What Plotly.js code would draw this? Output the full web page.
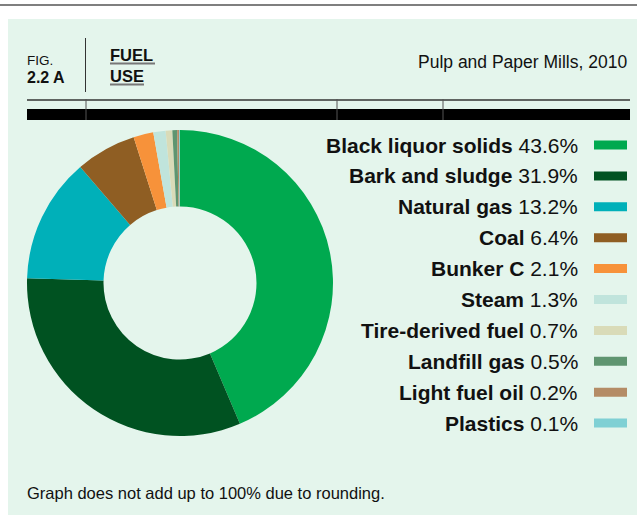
<!DOCTYPE html>
<html>
<head>
<meta charset="utf-8">
<script src="https://cdn.plot.ly/plotly-3.0.1.min.js"></script>
<style>html,body{margin:0;padding:0;background:#fff;}#chart{width:637px;height:518px;}</style>
</head>
<body>
<div id="chart"></div>
<script>
const categories = ["Black liquor solids","Bark and sludge","Natural gas","Coal","Bunker C","Steam","Tire-derived fuel","Landfill gas","Light fuel oil","Plastics"];
const shares = [43.6, 31.9, 13.2, 6.4, 2.1, 1.3, 0.7, 0.5, 0.2, 0.1];
const valueLabels = ["43.6%","31.9%","13.2%","6.4%","2.1%","1.3%","0.7%","0.5%","0.2%","0.1%"];
const colors = ["#00a94f","#005221","#00b0b9","#8f5e23","#f7923a","#c0e4dc","#d9dbb8","#5f9570","#b48c66","#7fd0d4"];
const chartTitle = "Pulp and Paper Mills, 2010";
const footnote = "Graph does not add up to 100% due to rounding.";

const W = 637, H = 518;
const px = x => x / W;
const py = y => 1 - y / H;
const FONT = "Liberation Sans, Arial, sans-serif";

const shapes = [];
const annotations = [];
// top gray rule
shapes.push({type:"line", xref:"paper", yref:"paper", x0:0, x1:1, y0:py(5), y1:py(5), line:{color:"#555", width:1.5}});
// panel
shapes.push({type:"rect", xref:"paper", yref:"paper", x0:px(8), x1:1, y0:py(515), y1:py(19), fillcolor:"#e4f5ec", line:{width:0}, layer:"below"});
// vertical divider in header
shapes.push({type:"line", xref:"paper", yref:"paper", x0:px(85.5), x1:px(85.5), y0:py(38), y1:py(92), line:{color:"#333", width:1}});
// thin rule
shapes.push({type:"line", xref:"paper", yref:"paper", x0:px(27), x1:px(630), y0:py(100), y1:py(100), line:{color:"#333", width:1.5}});
// black bar
shapes.push({type:"rect", xref:"paper", yref:"paper", x0:px(27), x1:px(630), y0:py(120), y1:py(109), fillcolor:"#000", line:{width:0}});
[86, 337, 443].forEach(x => {
  shapes.push({type:"line", xref:"paper", yref:"paper", x0:px(x), x1:px(x), y0:py(120), y1:py(99), line:{color:"#555", width:1}});
});
// underlines
shapes.push({type:"line", xref:"paper", yref:"paper", x0:px(110), x1:px(155), y0:py(63.5), y1:py(63.5), line:{color:"#777", width:2}});
shapes.push({type:"line", xref:"paper", yref:"paper", x0:px(110), x1:px(144), y0:py(84.5), y1:py(84.5), line:{color:"#777", width:2}});

annotations.push({xref:"paper", yref:"paper", x:px(25), y:py(61), xanchor:"left", yanchor:"middle", showarrow:false, text:"FIG.", font:{family:FONT, size:13.5, color:"#111"}});
annotations.push({xref:"paper", yref:"paper", x:px(25), y:py(77.5), xanchor:"left", yanchor:"middle", showarrow:false, text:"<b>2.2 A</b>", font:{family:FONT, size:16, color:"#111"}});
annotations.push({xref:"paper", yref:"paper", x:px(108), y:py(55), xanchor:"left", yanchor:"middle", showarrow:false, text:"<b>FUEL</b>", font:{family:FONT, size:16.5, color:"#111"}});
annotations.push({xref:"paper", yref:"paper", x:px(108), y:py(76), xanchor:"left", yanchor:"middle", showarrow:false, text:"<b>USE</b>", font:{family:FONT, size:16.5, color:"#111"}});
annotations.push({xref:"paper", yref:"paper", x:px(629), y:py(61.5), xanchor:"right", yanchor:"middle", showarrow:false, text:chartTitle, font:{family:FONT, size:17.5, color:"#111"}});
annotations.push({xref:"paper", yref:"paper", x:px(25), y:py(492.5), xanchor:"left", yanchor:"middle", showarrow:false, text:footnote, font:{family:FONT, size:16.5, color:"#111"}});

// legend rows
categories.forEach((c, i) => {
  const yc = 145 + i * 30.9;
  annotations.push({xref:"paper", yref:"paper", x:px(580), y:py(yc), xanchor:"right", yanchor:"middle", showarrow:false,
    text:"<b>" + c + "</b> " + valueLabels[i], font:{family:FONT, size:21, color:"#111"}});
  shapes.push({type:"rect", xref:"paper", yref:"paper", x0:px(594), x1:px(627), y0:py(yc + 4.5), y1:py(yc - 4.5), fillcolor:colors[i], line:{width:0}});
});

const trace = {
  type:"pie", labels:categories, values:shares, hole:0.5, sort:false, direction:"clockwise", rotation:0,
  marker:{colors:colors, line:{width:0}}, textinfo:"none", hoverinfo:"label+percent", showlegend:false,
  domain:{x:[px(27), px(333)], y:[py(436), py(130)]}
};

Plotly.newPlot("chart", [trace], {
  width:W, height:H, margin:{l:0, r:0, t:0, b:0}, paper_bgcolor:"#fff", plot_bgcolor:"rgba(0,0,0,0)",
  showlegend:false, shapes:shapes, annotations:annotations
}, {displayModeBar:false, staticPlot:true});
</script>
</body>
</html>
